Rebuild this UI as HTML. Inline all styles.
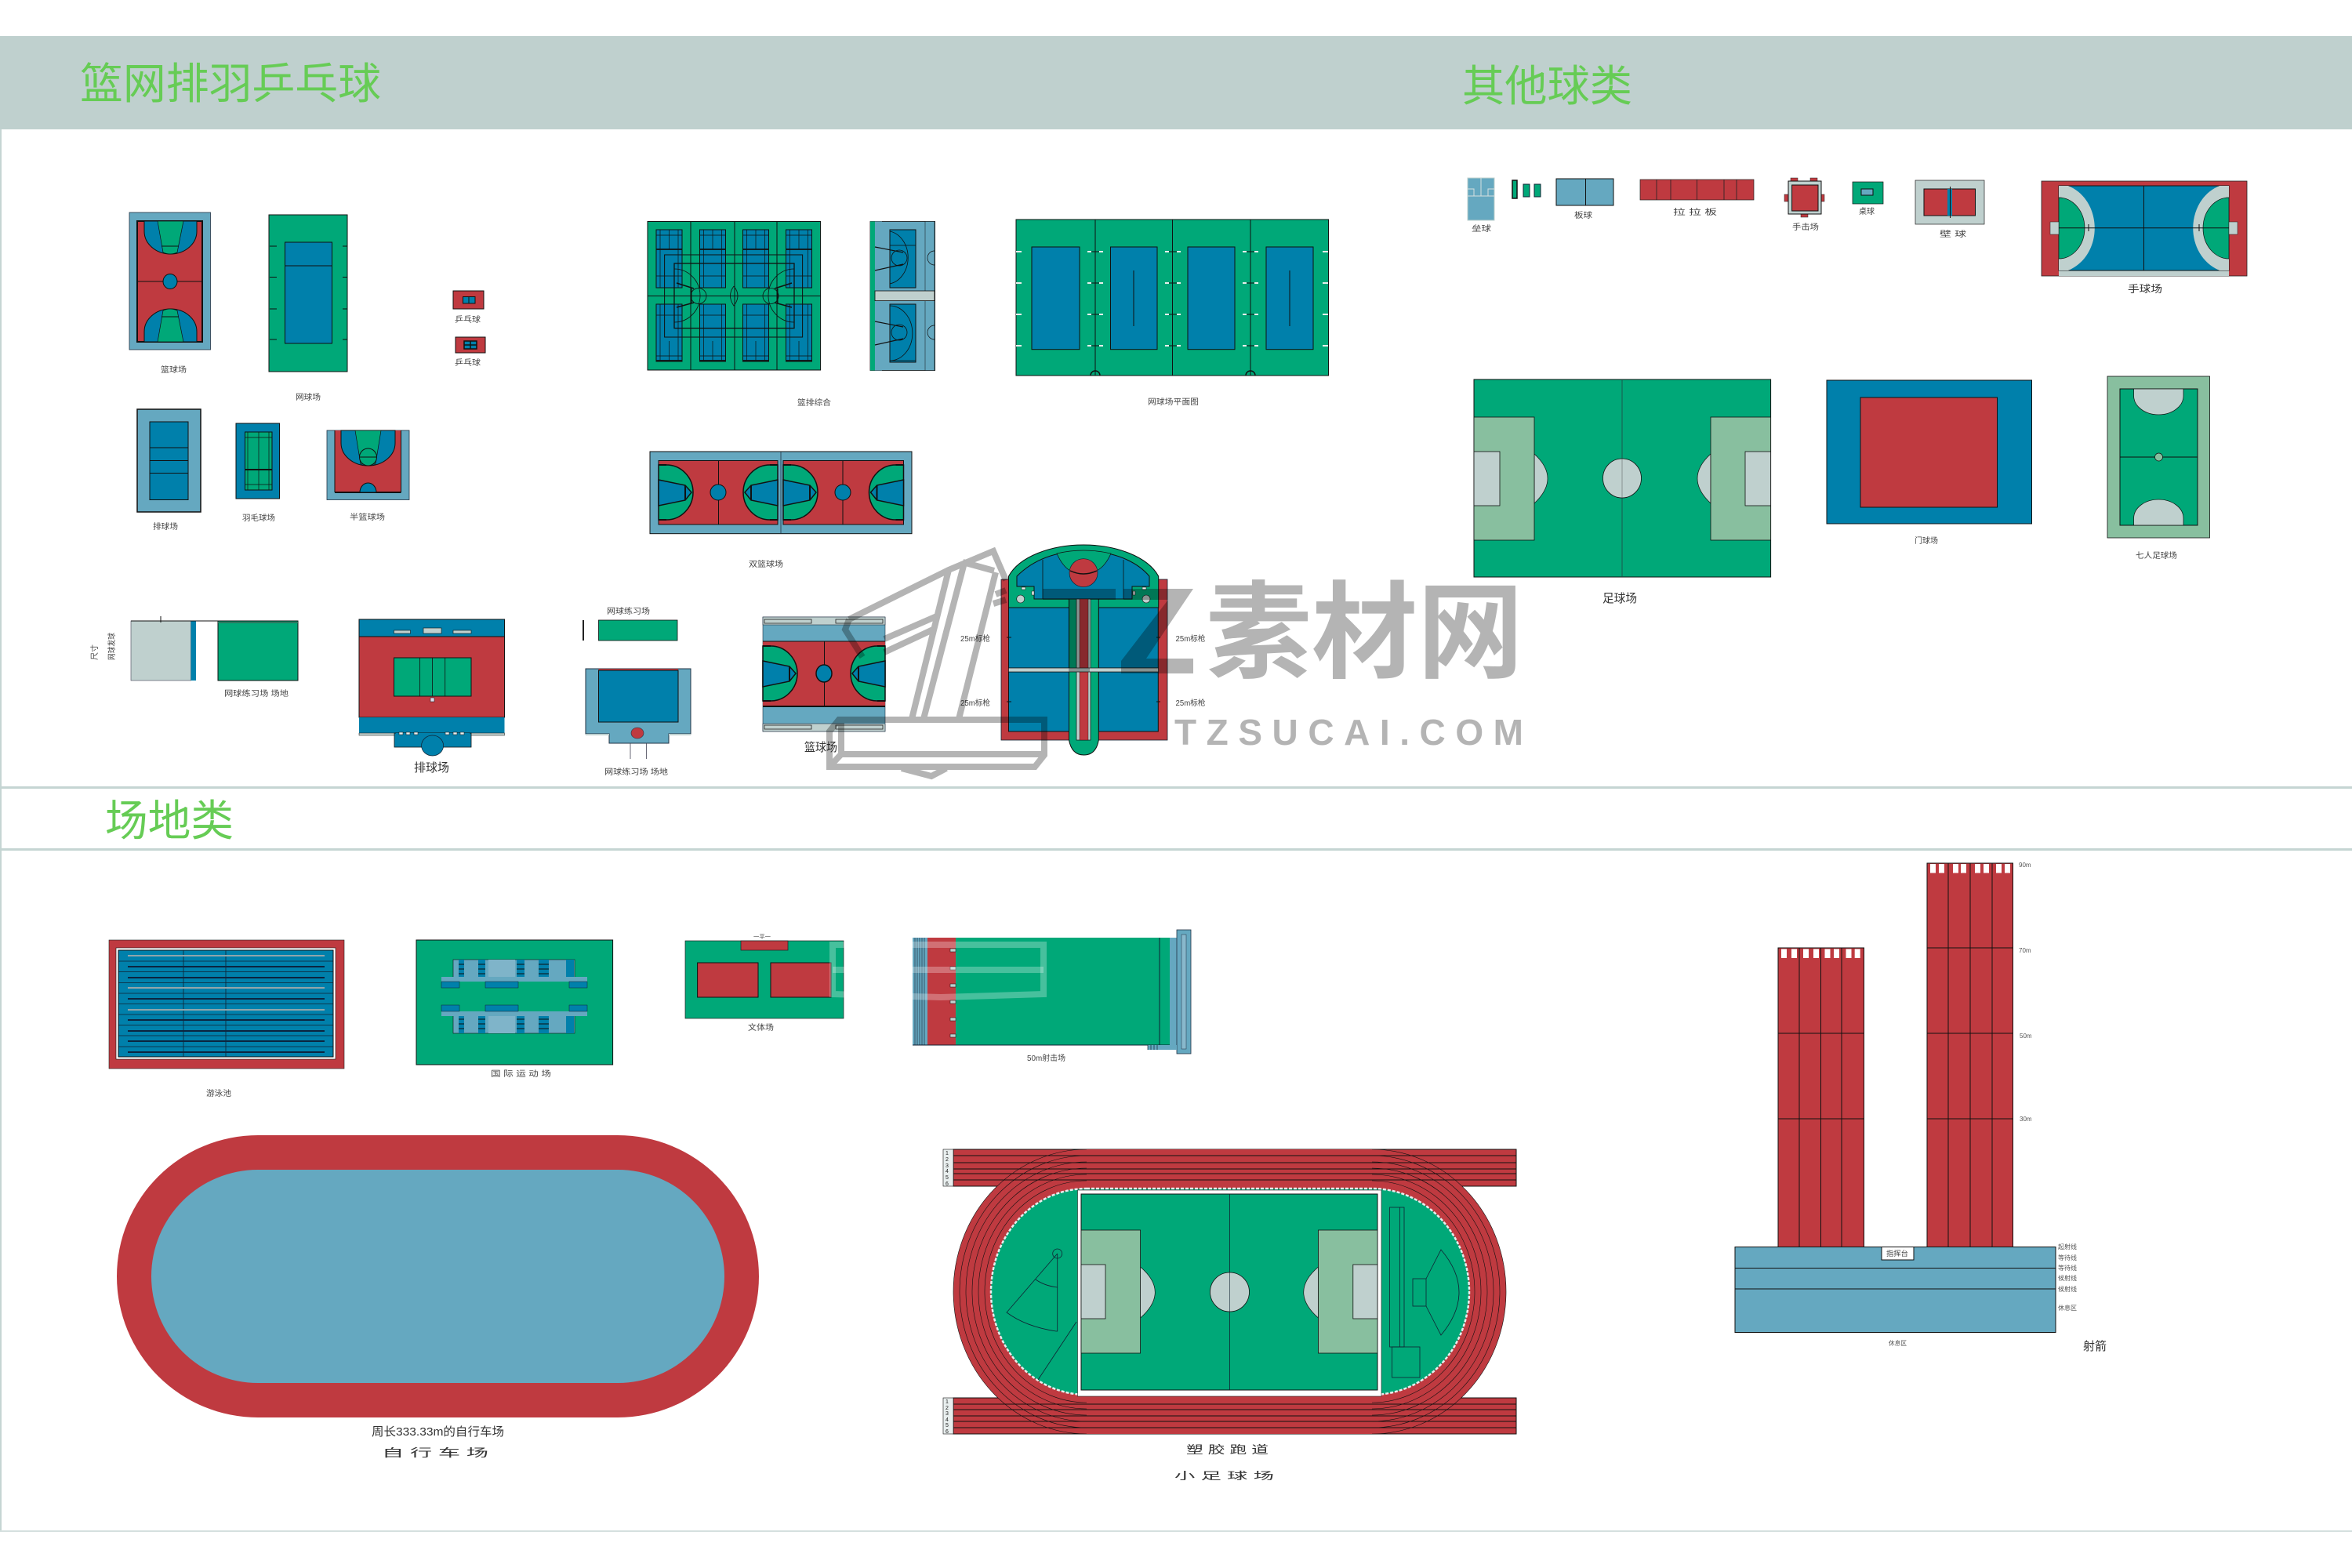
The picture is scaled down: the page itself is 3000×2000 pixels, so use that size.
<!DOCTYPE html>
<html><head><meta charset="utf-8"><title>球场</title>
<style>
html,body{margin:0;padding:0;background:#fff}
svg{display:block}
text{font-family:"Liberation Sans","WenQuanYi Zen Hei","Noto Sans CJK SC",sans-serif}
.t{font-size:55px;fill:#66cc55}
.l{font-size:10px;fill:#444}
.m{font-size:15px;fill:#333}
.k{stroke:#111;stroke-width:1.5;fill:none}
.s{stroke:#111;stroke-width:1}
.wm{fill:none;stroke:#b4b4b4;stroke-width:8}
</style></head><body>
<svg xmlns="http://www.w3.org/2000/svg" xmlns:xlink="http://www.w3.org/1999/xlink" width="3000" height="2000" viewBox="0 0 3000 2000">
<defs>
<g id="hb">
<path d="M0 -35 L10 -35 A34 35 0 0 1 10 35 L0 35Z" fill="#00a878" stroke="#111" stroke-width="1.5"/>
<path d="M0 -16 L34 -9 L42 0 L34 10 L0 17Z" fill="#0080ab" stroke="#111" stroke-width="1.5"/>
<path d="M34 -9V10M0 -35H10M0 35H10" stroke="#111" stroke-width="2"/>
</g>
<g id="tn"><rect width="33" height="74" fill="#0080ab" stroke="#111"/><path d="M5 0V74M28 0V74M16.500 0V25M0 7H33M0 59H33" stroke="#111" fill="none" stroke-width=".7"/><path d="M0 25H33" stroke="#111" stroke-width="1.800"/></g>
<g id="tn2"><rect width="33" height="73" fill="#0080ab" stroke="#111"/><path d="M5 0V73M28 0V73M16.500 47V73M0 14H33M0 66H33" stroke="#111" fill="none" stroke-width=".7"/><path d="M0 72H33" stroke="#111" stroke-width="1.800"/></g>
<g id="stand">
<rect x="578" y="1224" width="155" height="27" fill="#65a8c0" stroke="#111" stroke-width=".6"/>
<rect x="585" y="1224" width="7" height="27" fill="#0080ab"/><rect x="610" y="1224" width="9" height="27" fill="#0080ab"/><rect x="659" y="1224" width="10" height="27" fill="#0080ab"/><rect x="687" y="1224" width="13" height="27" fill="#0080ab"/><rect x="722" y="1224" width="10" height="27" fill="#0080ab"/>
<rect x="623" y="1224" width="34" height="27" fill="#7fb4c9"/>
<path d="M585 1230H592M585 1236H592M585 1242H592M610 1230H619M610 1236H619M610 1242H619M659 1230H669M659 1236H669M659 1242H669M687 1230H700M687 1236H700M687 1242H700" stroke="#111" stroke-width="1"/>
<rect x="563" y="1246" width="186" height="6" fill="#65a8c0"/>
<rect x="563" y="1252" width="23" height="8" fill="#0080ab" stroke="#123" stroke-width=".5"/><rect x="726" y="1252" width="23" height="8" fill="#0080ab" stroke="#123" stroke-width=".5"/><rect x="619" y="1252" width="42" height="8" fill="#0080ab" stroke="#123" stroke-width=".5"/>
</g>
</defs>
<rect width="3000" height="2000" fill="#fff"/>

<!-- frame -->
<rect x="0" y="46" width="3000" height="119" fill="#bfd0ce"/>
<rect x="0" y="165" width="2" height="1789" fill="#c5d5d3"/>
<rect x="0" y="1003" width="3000" height="3" fill="#c5d5d3"/>
<rect x="0" y="1082" width="3000" height="3" fill="#c5d5d3"/>
<rect x="0" y="1952" width="3000" height="2" fill="#d5e0df"/>
<text class="t" x="102" y="126" textLength="384" lengthAdjust="spacingAndGlyphs">篮网排羽乒乓球</text>
<text class="t" x="1865" y="129" textLength="217" lengthAdjust="spacingAndGlyphs">其他球类</text>
<text class="t" x="134" y="1066" textLength="164" lengthAdjust="spacingAndGlyphs">场地类</text>

<!-- basketball vertical -->
<rect x="165" y="271" width="103.500" height="175" fill="#65a8c0" stroke="#234" stroke-width=".8"/>
<rect x="175" y="282" width="83" height="154" fill="#bf3a40" stroke="#111" stroke-width="2"/>
<g id="bk">
<path d="M184 282V295A33.500 29 0 0 0 251 295V282Z" fill="#0080ab" stroke="#111"/>
<path d="M201 282L208 322Q217 326 226 322L234 282Z" fill="#00a878" stroke="#111" stroke-width=".7"/>
<path d="M206 314H228" stroke="#111"/>
</g>
<use xlink:href="#bk" href="#bk" transform="translate(0,718) scale(1,-1)"/>
<path d="M175 359H258" class="s"/>
<ellipse cx="217" cy="359" rx="9" ry="9.500" fill="#0080ab" stroke="#111"/>
<text class="l" x="205" y="475" textLength="33" lengthAdjust="spacingAndGlyphs">篮球场</text>

<!-- tennis vertical -->
<rect x="343" y="274" width="100" height="200" fill="#00a878" stroke="#111"/>
<rect x="363.500" y="309" width="60" height="129" fill="#0080ab" stroke="#111"/>
<path d="M363.500 339H423.500" class="s"/>
<path d="M344 314H353M344 353.500H353M344 394H353M344 433H353M437 314H443M437 353.500H443M437 394H443M437 433H443" class="s"/>
<text class="l" x="377" y="510" textLength="32" lengthAdjust="spacingAndGlyphs">网球场</text>

<!-- ping pong -->
<rect x="578" y="371" width="39" height="23" fill="#bf3a40" stroke="#111"/><rect x="590.500" y="378.500" width="15.500" height="8.500" fill="#0080ab" stroke="#111"/><path d="M598 378V387" class="s"/>
<text class="l" x="580" y="411" textLength="33" lengthAdjust="spacingAndGlyphs">乒乓球</text>
<rect x="581" y="430" width="38" height="20" fill="#bf3a40" stroke="#111"/><rect x="592" y="435" width="16" height="10" fill="#0080ab" stroke="#111" stroke-width="1.5"/><path d="M600 435V445M592 440H608" stroke="#111" stroke-width="1.5"/>
<text class="l" x="580" y="466" textLength="33" lengthAdjust="spacingAndGlyphs">乒乓球</text>

<!-- volleyball -->
<rect x="175" y="522" width="81" height="131" fill="#65a8c0" stroke="#111" stroke-width="1.5"/>
<rect x="191" y="538" width="49" height="99.500" fill="#0080ab" stroke="#111"/>
<path d="M191 571H240M191 587.500H240M191 603.500H240" class="s"/>
<text class="l" x="195" y="675" textLength="32" lengthAdjust="spacingAndGlyphs">排球场</text>

<!-- badminton -->
<rect x="301" y="540" width="55.500" height="96" fill="#0080ab" stroke="#111"/>
<rect x="312.500" y="551" width="34.500" height="74" fill="#00a878" stroke="#111"/>
<path d="M312.500 558H347M312.500 618H347M316 551V625M343 551V625M330 551V625" stroke="#111" stroke-width=".7"/><path d="M312.500 599H347" stroke="#111" stroke-width="2"/>
<text class="l" x="309" y="664" textLength="42" lengthAdjust="spacingAndGlyphs">羽毛球场</text>

<!-- half basketball -->
<rect x="417" y="549" width="105" height="88.500" fill="#65a8c0" stroke="#234" stroke-width=".8"/>
<rect x="427" y="549" width="84.500" height="79" fill="#bf3a40"/><path d="M427 628H511.500" stroke="#111" stroke-width="2"/><path d="M427 549V628M511.500 549V628" class="s"/>
<path d="M435 549V565A34.500 29 0 0 0 504 565V549Z" fill="#0080ab" stroke="#111"/>
<path d="M453 549L460 592H479L486 549Z" fill="#00a878" stroke="#111" stroke-width=".7"/>
<circle cx="469.500" cy="583" r="11" fill="#00a878" stroke="#111"/><path d="M458.500 583H480.500" class="s"/>
<path d="M459 628A10.500 12 0 0 1 480 628Z" fill="#0080ab" stroke="#111"/>
<text class="l" x="446" y="663" textLength="45" lengthAdjust="spacingAndGlyphs">半篮球场</text>

<!-- combined court -->
<rect x="826" y="282.500" width="220.600" height="189.500" fill="#00a878" stroke="#111"/>
<path d="M881 282.500V472M937 282.500V472M991 282.500V472M826 377.500H1046.600" class="s" stroke-width=".8"/>
<use href="#tn" xlink:href="#tn" x="837" y="293"/><use href="#tn" xlink:href="#tn" x="892.500" y="293"/><use href="#tn" xlink:href="#tn" x="947.500" y="293"/><use href="#tn" xlink:href="#tn" x="1002.500" y="293"/>
<use href="#tn2" xlink:href="#tn2" x="837" y="388"/><use href="#tn2" xlink:href="#tn2" x="892.500" y="388"/><use href="#tn2" xlink:href="#tn2" x="947.500" y="388"/><use href="#tn2" xlink:href="#tn2" x="1002.500" y="388"/>
<rect x="847.600" y="325" width="176" height="105" fill="none" stroke="#111"/>
<rect x="860" y="336" width="153" height="82.600" fill="none" stroke="#111" stroke-width="1.300"/>
<path d="M860 343A33 34 0 0 1 860 411M1013 343A33 34 0 0 0 1013 411" fill="none" stroke="#111" stroke-width=".8"/>
<path d="M863 361L885 368M863 392L885 386M1010 361L988 368M1010 392L988 386" stroke="#111" stroke-width="1.500"/>
<path d="M882 368V387M992 368V387" stroke="#111" stroke-width="1"/>
<ellipse cx="891" cy="377.500" rx="10" ry="10" fill="none" stroke="#111" stroke-width=".8"/><ellipse cx="983" cy="377.500" rx="10" ry="10" fill="none" stroke="#111" stroke-width=".8"/>
<path d="M936 365Q927 377 936 390Q946 377 936 365" stroke="#111" fill="none" stroke-width=".8"/>

<rect x="1110" y="282.500" width="82.600" height="190" fill="#65a8c0" stroke="#111" stroke-width=".8"/>
<rect x="1110" y="282.500" width="6" height="190" fill="#00a878"/><rect x="1116" y="282.500" width="9" height="190" fill="#65a8c0"/>
<rect x="1180" y="282.500" width="12" height="190" fill="#65a8c0" stroke="#111" stroke-width=".5"/>
<rect x="1135" y="293" width="33" height="74" fill="#0080ab" stroke="#111"/>
<rect x="1135" y="388" width="33" height="74" fill="#0080ab" stroke="#111"/>
<path d="M1135 313H1168M1135 460H1168" stroke="#111" stroke-width=".7"/>
<rect x="1116" y="371" width="76" height="12.600" fill="#bfd0ce" stroke="#111" stroke-width=".8"/>
<path d="M1116 315L1152 322M1116 345L1152 337M1116 410L1152 417M1116 440L1152 432" stroke="#111" stroke-width="1.200"/>
<path d="M1135 295A28 34 0 0 1 1135 362M1135 390A28 34 0 0 1 1135 460" stroke="#111" fill="none" stroke-width=".8"/>
<ellipse cx="1147" cy="329" rx="10" ry="10" fill="none" stroke="#111" stroke-width=".8"/><ellipse cx="1147" cy="424" rx="10" ry="10" fill="none" stroke="#111" stroke-width=".8"/>
<path d="M1192 320A8 8 0 0 0 1192 338M1192 415A8 8 0 0 0 1192 433" stroke="#111" fill="none" stroke-width=".7"/>
<text class="l" x="1017" y="517" textLength="43" lengthAdjust="spacingAndGlyphs">篮排综合</text>

<!-- tennis plan -->
<rect x="1296" y="280" width="398.500" height="199" fill="#00a878" stroke="#111"/>
<path d="M1397 280V479M1495.500 280V479M1595 280V479" class="s"/>
<g fill="#0080ab" stroke="#111"><rect x="1316" y="315" width="61" height="130.700"/><rect x="1416.500" y="315" width="59.500" height="130.700"/><rect x="1515" y="315" width="60" height="130.700"/><rect x="1615" y="315" width="60" height="130.700"/></g>
<path d="M1446 345V416M1645 345V416" class="s" stroke-width=".7"/>
<path d="M1296 321H1303M1296 361H1303M1296 401H1303M1296 441H1303M1387 321H1392M1402 321H1407M1387 361H1392M1402 361H1407M1387 401H1392M1402 401H1407M1387 441H1392M1402 441H1407M1486 321H1491M1501 321H1506M1486 361H1491M1501 361H1506M1486 401H1491M1501 401H1506M1486 441H1491M1501 441H1506M1585 321H1590M1600 321H1605M1585 361H1590M1600 361H1605M1585 401H1590M1600 401H1605M1585 441H1590M1600 441H1605M1687 321H1694M1687 361H1694M1687 401H1694M1687 441H1694" stroke="#e6efec" stroke-width="2"/>
<path d="M1392 321H1402M1392 361H1402M1392 401H1402M1392 441H1402M1491 321H1501M1491 361H1501M1491 401H1501M1491 441H1501M1590 321H1600M1590 361H1600M1590 401H1600M1590 441H1600" stroke="#111" stroke-width=".9"/>
<path d="M1391 479A6 6 0 0 1 1403 479M1589 479A6 6 0 0 1 1601 479" class="k" stroke-width=".8"/>
<text class="l" x="1464" y="516" textLength="65" lengthAdjust="spacingAndGlyphs">网球场平面图</text>

<!-- double basketball -->
<rect x="829" y="576" width="334" height="104.700" fill="#65a8c0" stroke="#111"/>
<path d="M996 576V680.700" stroke="#234" stroke-width=".8"/>
<rect x="840" y="587.500" width="152" height="81.500" fill="#bf3a40" stroke="#111"/>
<rect x="999" y="587.500" width="153.500" height="81.500" fill="#bf3a40" stroke="#111"/>
<use href="#hb" xlink:href="#hb" transform="translate(840,628)"/><use href="#hb" xlink:href="#hb" transform="translate(992,628) scale(-1,1)"/><use href="#hb" xlink:href="#hb" transform="translate(999,628)"/><use href="#hb" xlink:href="#hb" transform="translate(1152.500,628) scale(-1,1)"/>
<path d="M916.500 587.500V669M1075 587.500V669" class="s"/>
<ellipse cx="916" cy="628" rx="10" ry="10" fill="#0080ab" stroke="#111"/><ellipse cx="1075" cy="628" rx="10" ry="10" fill="#0080ab" stroke="#111"/>
<text class="l" x="955" y="723" textLength="44" lengthAdjust="spacingAndGlyphs">双篮球场</text>

<!-- practice wall -->
<rect x="167" y="792" width="76.500" height="76" fill="#bfd0ce" stroke="#445" stroke-width=".6"/>
<rect x="243.500" y="792" width="6.500" height="76" fill="#0080ab"/>
<rect x="278" y="792" width="102" height="76" fill="#00a878" stroke="#111"/><path d="M278 794H380" stroke="#2a7a60" stroke-width="2"/>
<path d="M167 792H380" stroke="#111"/><path d="M205 786V794" class="s"/>
<text class="l" transform="translate(124,842) rotate(-90)" x="0" y="0" textLength="20" lengthAdjust="spacingAndGlyphs">尺寸</text>
<text class="l" transform="translate(146,842) rotate(-90)" x="0" y="0" textLength="35" lengthAdjust="spacingAndGlyphs">网球发球</text>
<text class="l" x="286" y="888" textLength="82" lengthAdjust="spacingAndGlyphs">网球练习场 场地</text>

<!-- volleyball hall -->
<rect x="458" y="790" width="185.500" height="22" fill="#0080ab" stroke="#111"/>
<rect x="458" y="812" width="185.500" height="103" fill="#bf3a40" stroke="#111"/>
<rect x="458" y="915" width="185.500" height="20" fill="#0080ab"/>
<rect x="458" y="935" width="185.500" height="3" fill="#bfd0ce" stroke="#111" stroke-width=".5"/>
<rect x="503" y="935" width="98" height="18" fill="#0080ab" stroke="#111" stroke-width=".8"/>
<rect x="505" y="935" width="94" height="3" fill="#0080ab"/>
<ellipse cx="551.600" cy="951" rx="14" ry="13" fill="#0080ab" stroke="#123" stroke-width=".7"/>
<g fill="#bfd0ce" stroke="#111" stroke-width=".6"><rect x="502.500" y="804" width="21" height="4"/><rect x="540" y="801" width="23" height="7"/><rect x="578" y="804" width="23" height="4"/></g>
<g fill="#e8eeee" stroke="#111" stroke-width=".5"><rect x="509" y="934" width="5" height="3"/><rect x="518" y="934" width="5" height="3"/><rect x="528" y="934" width="5" height="3"/><rect x="568" y="934" width="5" height="3"/><rect x="578" y="934" width="5" height="3"/><rect x="587" y="934" width="5" height="3"/></g>
<rect x="502.500" y="839" width="98.500" height="49" fill="#00a878" stroke="#111"/>
<path d="M535.500 839V888M551.600 839V888M567.700 839V888" stroke="#111" stroke-width=".8"/>
<rect x="549" y="890" width="5" height="5" fill="#dde" stroke="#111" stroke-width=".5"/>
<text class="m" x="528" y="984" textLength="45" lengthAdjust="spacingAndGlyphs">排球场</text>

<!-- practice 2 -->
<text class="l" x="774" y="783" textLength="55" lengthAdjust="spacingAndGlyphs">网球练习场</text>
<rect x="743" y="791" width="2" height="26" fill="#222"/>
<rect x="763.500" y="791" width="100.500" height="26" fill="#00a878" stroke="#111" stroke-width=".8"/>
<path d="M747 853H881V936H853V948H777V936H747Z" fill="#65a8c0" stroke="#234"/>
<rect x="763.500" y="853" width="101.500" height="2" fill="#bf3a40"/>
<rect x="763.500" y="855" width="101.500" height="66" fill="#0080ab" stroke="#111"/>
<ellipse cx="813" cy="935" rx="8" ry="7" fill="#bf3a40" stroke="#234" stroke-width=".6"/>
<path d="M804 948V968M824.500 948V968" stroke="#445" stroke-width=".8"/>
<rect x="747" y="936" width="30" height="2" fill="#bfd0ce"/><rect x="853" y="936" width="28" height="2" fill="#bfd0ce"/>
<text class="l" x="771" y="988" textLength="81" lengthAdjust="spacingAndGlyphs">网球练习场 场地</text>

<!-- basketball 973 -->
<rect x="973" y="787" width="156" height="146" fill="#65a8c0" stroke="#234" stroke-width=".6"/>
<rect x="973" y="787" width="156" height="10" fill="#bfd0ce" stroke="#234" stroke-width=".6"/><rect x="973" y="923" width="156" height="10" fill="#bfd0ce" stroke="#234" stroke-width=".6"/>
<g fill="#bfd0ce" stroke="#222" stroke-width=".8"><rect x="975" y="790" width="60" height="5"/><rect x="1066" y="790" width="60" height="5"/><rect x="975" y="925" width="60" height="5"/><rect x="1066" y="925" width="60" height="5"/></g>
<rect x="973" y="818" width="156" height="83" fill="#bf3a40"/>
<use href="#hb" xlink:href="#hb" transform="translate(973,859)"/><use href="#hb" xlink:href="#hb" transform="translate(1129,859) scale(-1,1)"/>
<path d="M973 901H1129" stroke="#111" stroke-width="2"/><path d="M973 818H1129M1051.500 818V901" class="s"/>
<ellipse cx="1051" cy="859" rx="10" ry="11" fill="#0080ab" stroke="#111" stroke-width="1.500"/>
<text class="m" x="1026" y="958" textLength="42" lengthAdjust="spacingAndGlyphs">篮球场</text>

<!-- big complex -->
<rect x="1277" y="739" width="212" height="205" fill="#bf3a40" stroke="#123" stroke-width=".8"/>
<path d="M1286.500 775V735C1300 710 1340 695 1382 695C1424 695 1464 710 1477.700 735V775Z" fill="#00a878" stroke="#111"/>
<path d="M1297 735C1310 722 1335 703 1382 703C1430 703 1455 722 1466 735V748H1444V764H1319V748H1297Z" fill="#0080ab" stroke="#111"/>
<path d="M1348 706Q1355 722 1365 728H1399Q1410 722 1417 706Q1382 698 1348 706Z" fill="#00a878" stroke="#111" stroke-width=".7"/>
<ellipse cx="1382" cy="730.700" rx="18" ry="18" fill="#bf3a40" stroke="#123" stroke-width=".7"/><path d="M1365 728Q1382 736 1399 728" class="k" stroke-width=".7"/>
<path d="M1330 714V764M1433 714V764" stroke="#111" stroke-width=".8"/>
<circle cx="1301.700" cy="764" r="5" fill="#bfd0ce" stroke="#111" stroke-width=".6"/><circle cx="1462" cy="764" r="5" fill="#bfd0ce" stroke="#111" stroke-width=".6"/>
<g fill="#e8eeee" stroke="#111" stroke-width=".5"><rect x="1303" y="749" width="5" height="3"/><rect x="1457" y="749" width="5" height="3"/><rect x="1316" y="754" width="3" height="5"/><rect x="1445" y="754" width="3" height="5"/></g>
<g fill="#0080ab" stroke="#111"><rect x="1286.500" y="775" width="77" height="77"/><rect x="1401.300" y="775" width="76" height="77"/><rect x="1286.500" y="857" width="77" height="76"/><rect x="1401.300" y="857" width="76" height="76"/></g>
<path d="M1363.500 764H1401.300V944Q1398 963 1382.500 963Q1367 963 1363.500 944Z" fill="#00a878" stroke="#111"/>
<rect x="1373" y="764" width="18" height="180" fill="#bfd0ce" stroke="#111" stroke-width=".7"/>
<rect x="1377" y="764" width="11" height="180" fill="#bf3a40" stroke="#111" stroke-width=".4"/>
<rect x="1286.500" y="852" width="191" height="5" fill="#bfd0ce" stroke="#111" stroke-width=".7"/>
<path d="M1284 813H1290M1475 813H1480M1284 895H1290M1475 895H1480" class="s"/>
<g class="l"><text x="1225" y="818" textLength="38" lengthAdjust="spacingAndGlyphs">25m标枪</text><text x="1225" y="900" textLength="38" lengthAdjust="spacingAndGlyphs">25m标枪</text><text x="1499.500" y="818" textLength="38" lengthAdjust="spacingAndGlyphs">25m标枪</text><text x="1499.500" y="900" textLength="38" lengthAdjust="spacingAndGlyphs">25m标枪</text></g>

<!-- other balls row -->
<rect x="1872" y="227" width="34" height="54" fill="#65a8c0" stroke="#bfd0ce"/>
<path d="M1889 227V250M1872 241H1880V250M1906 241H1898V250M1872 250H1906" stroke="#d5e0df" fill="none"/>
<text class="l" x="1877" y="295" textLength="25" lengthAdjust="spacingAndGlyphs">垒球</text>
<rect x="1929" y="230" width="6" height="23" fill="#00a878" stroke="#111" stroke-width="1.500"/><rect x="1943" y="235" width="8" height="16" fill="#00a878" stroke="#123"/><rect x="1957" y="235" width="8" height="16" fill="#00a878" stroke="#123"/>
<rect x="1985" y="228" width="73" height="34" fill="#65a8c0" stroke="#111"/><path d="M2022.500 228V262" class="s"/>
<text class="l" x="2008" y="278" textLength="23" lengthAdjust="spacingAndGlyphs">板球</text>
<rect x="2092" y="229" width="145" height="26" fill="#bf3a40" stroke="#222" stroke-width=".7"/>
<path d="M2113 229V255M2131 229V255M2164.500 229V255M2199 229V255M2215 229V255" stroke="#222" stroke-width=".8"/>
<text class="l" x="2134" y="274" textLength="56" lengthAdjust="spacingAndGlyphs">拉 拉 板</text>
<g fill="#bf3a40" stroke="#222" stroke-width=".5"><rect x="2284" y="227" width="9" height="4"/><rect x="2309" y="227" width="9" height="4"/><rect x="2276" y="248" width="5" height="9"/><rect x="2323" y="248" width="4" height="9"/><rect x="2297" y="273" width="9" height="4"/></g>
<rect x="2281" y="231" width="42" height="42" fill="#bfd0ce" stroke="#111"/><rect x="2285.600" y="236" width="33.400" height="33" fill="#bf3a40" stroke="#111"/>
<text class="l" x="2286" y="293" textLength="34" lengthAdjust="spacingAndGlyphs">手击场</text>
<rect x="2363" y="232" width="39" height="28" fill="#00a878" stroke="#111" stroke-width=".7"/><rect x="2374" y="241" width="15" height="8" fill="#65a8c0" stroke="#111"/>
<text class="l" x="2371" y="273" textLength="20" lengthAdjust="spacingAndGlyphs">桌球</text>
<rect x="2443" y="230" width="88" height="56" fill="#bfd0ce" stroke="#222" stroke-width=".7"/><rect x="2454" y="241" width="65.500" height="34" fill="#bf3a40" stroke="#111"/>
<rect x="2484" y="241" width="6" height="34" fill="#0080ab"/><path d="M2487.500 238V278" class="s"/>
<text class="l" x="2474" y="302" textLength="34" lengthAdjust="spacingAndGlyphs">壁 球</text>

<!-- handball -->
<rect x="2604" y="231" width="262" height="121" fill="#bf3a40" stroke="#222" stroke-width=".8"/>
<rect x="2626" y="345" width="217" height="7" fill="#bfd0ce"/>
<rect x="2626" y="237" width="217" height="108" fill="#0080ab" stroke="#111"/>
<path d="M2626 237H2638C2682 255 2684 325 2638 345H2626Z" fill="#bfd0ce"/>
<path d="M2843 237H2831C2787 255 2785 325 2831 345H2843Z" fill="#bfd0ce"/>
<path d="M2626 252A33 39 0 0 1 2626 330Z" fill="#00a878" stroke="#111" stroke-width=".7"/>
<path d="M2843 252A33 39 0 0 0 2843 330Z" fill="#00a878" stroke="#111" stroke-width=".7"/>
<rect x="2615" y="283" width="11" height="16" fill="#bfd0ce" stroke="#222" stroke-width=".5"/><rect x="2843" y="283" width="11" height="16" fill="#bfd0ce" stroke="#222" stroke-width=".5"/>
<path d="M2626 290.700H2843M2734.500 237V345M2664 286V295M2805 286V295" class="s"/>
<text class="m" x="2714" y="373" textLength="44" lengthAdjust="spacingAndGlyphs" style="font-size:13px">手球场</text>

<!-- soccer -->
<rect x="1880" y="484" width="378.600" height="252" fill="#00a878" stroke="#111"/>
<path d="M1957 579Q1991 610 1957 642Z" fill="#bfd0ce" stroke="#111" stroke-width=".7"/>
<path d="M2182 579Q2148 610 2182 642Z" fill="#bfd0ce" stroke="#111" stroke-width=".7"/>
<rect x="1880" y="532" width="77" height="157" fill="#88bf9f" stroke="#111" stroke-width=".8"/><rect x="2182" y="532" width="76.600" height="157" fill="#88bf9f" stroke="#111" stroke-width=".8"/>
<rect x="1880" y="576" width="33" height="69" fill="#bfd0ce" stroke="#111" stroke-width=".8"/><rect x="2226" y="576" width="32.600" height="69" fill="#bfd0ce" stroke="#111" stroke-width=".8"/>
<path d="M2069 484V736" stroke="#244" stroke-width=".8"/>
<ellipse cx="2069" cy="610" rx="24.500" ry="25" fill="#bfd0ce" stroke="#111" stroke-width=".8"/><path d="M2069 585V635" stroke="#555" stroke-width=".5"/>
<text class="m" x="2044" y="768" textLength="44" lengthAdjust="spacingAndGlyphs">足球场</text>

<rect x="2330" y="485" width="261.500" height="183" fill="#0080ab" stroke="#111"/>
<rect x="2373" y="507" width="174.500" height="140" fill="#bf3a40" stroke="#111"/>
<text class="l" x="2442" y="693" textLength="30" lengthAdjust="spacingAndGlyphs">门球场</text>

<rect x="2688" y="480" width="130.500" height="206" fill="#88bf9f" stroke="#111" stroke-width=".8"/>
<rect x="2704" y="496" width="99" height="174" fill="#00a878" stroke="#111"/>
<path d="M2721.600 496V505A31.700 24 0 0 0 2785 505V496Z" fill="#bfd0ce" stroke="#111" stroke-width=".7"/>
<path d="M2721.600 670V661A31.700 24 0 0 1 2785 661V670Z" fill="#bfd0ce" stroke="#111" stroke-width=".7"/>
<path d="M2704 583H2803" class="s"/><ellipse cx="2753.500" cy="583" rx="5" ry="5" fill="#88bf9f" stroke="#111" stroke-width=".7"/>
<text class="l" x="2724" y="712" textLength="53" lengthAdjust="spacingAndGlyphs">七人足球场</text>

<!-- pool -->
<rect x="139" y="1199" width="300" height="164" fill="#bf3a40" stroke="#222" stroke-width=".6"/>
<rect x="148" y="1209" width="280" height="142" fill="#fff" stroke="#111" stroke-width=".6"/>
<rect x="151" y="1212" width="274" height="136" fill="#0080ab" stroke="#111"/>
<path d="M151 1226H425M151 1239.500H425M151 1253.500H425M151 1267H425M151 1280.500H425M151 1294H425M151 1307.500H425M151 1321H425M151 1335H425" stroke="#123" stroke-width=".8"/>
<path d="M234 1212V1348M288 1212V1348" stroke="#123" stroke-width=".8"/>
<path d="M163 1219H414M163 1233H414M163 1247H414M163 1260H414M163 1274H414M163 1288H414M163 1301H414M163 1315H414M163 1328H414M163 1342H414" stroke="#0c2540" stroke-width="2"/>
<path d="M163 1219H414M163 1260H414M163 1288H414" stroke="#bfd0ce" stroke-width="1.500"/>
<text class="l" x="263" y="1398" textLength="32" lengthAdjust="spacingAndGlyphs">游泳池</text>

<!-- athletics field -->
<rect x="531" y="1199" width="250.600" height="159" fill="#00a878" stroke="#111"/>
<use href="#stand" xlink:href="#stand"/><use href="#stand" xlink:href="#stand" transform="translate(0,2542) scale(1,-1)"/>
<text class="l" x="626" y="1373" textLength="77" lengthAdjust="spacingAndGlyphs">国 际 运 动 场</text>

<!-- tennis 3 -->
<rect x="874" y="1200" width="202" height="99" fill="#00a878" stroke="#222" stroke-width=".7"/>
<rect x="945" y="1200" width="60" height="12" fill="#bf3a40" stroke="#222" stroke-width=".7"/>
<rect x="889.600" y="1228" width="77.400" height="44" fill="#bf3a40" stroke="#111"/><rect x="983" y="1228" width="77" height="44" fill="#bf3a40" stroke="#111"/>
<text class="l" x="961" y="1197" textLength="22" lengthAdjust="spacingAndGlyphs" style="font-size:7px">一平一</text>
<text class="l" x="954" y="1314" textLength="33" lengthAdjust="spacingAndGlyphs">文体场</text>

<!-- shooting -->
<rect x="1164" y="1196" width="19" height="137" fill="#65a8c0"/><path d="M1167 1196V1333M1170 1196V1333M1173 1196V1333M1176 1196V1333M1179 1196V1333" stroke="#234" stroke-width=".7"/>
<rect x="1183" y="1196" width="36" height="137" fill="#bf3a40"/>
<rect x="1219" y="1196" width="273" height="137" fill="#00a878"/><path d="M1164 1333H1492M1479 1196V1333" stroke="#123"/>
<rect x="1492" y="1196" width="9" height="137" fill="#65a8c0"/>
<rect x="1501" y="1186" width="18" height="158" fill="#65a8c0" stroke="#234" stroke-width=".8"/><rect x="1507" y="1192" width="6" height="146" fill="#88b8cc" stroke="#234" stroke-width=".5"/>
<rect x="1464" y="1333" width="37" height="6" fill="#65a8c0"/><path d="M1464 1333V1339M1468 1333V1339M1472 1333V1339M1476 1333V1339" stroke="#123" stroke-width=".7"/>
<g fill="#bfd0ce" stroke="#111" stroke-width=".5"><rect x="1212" y="1210" width="7" height="4"/><rect x="1212" y="1233" width="7" height="4"/><rect x="1212" y="1255" width="7" height="4"/><rect x="1212" y="1276" width="7" height="4"/><rect x="1212" y="1298" width="7" height="4"/><rect x="1212" y="1319" width="7" height="4"/></g>
<text class="l" x="1310" y="1353" textLength="49" lengthAdjust="spacingAndGlyphs">50m射击场</text>

<!-- cycling -->
<rect x="149" y="1448" width="819" height="360" rx="180" ry="180" fill="#bf3a40"/>
<rect x="193" y="1492" width="731" height="272" rx="136" ry="136" fill="#65a8c0"/>
<text class="m" x="474" y="1831" textLength="169" lengthAdjust="spacingAndGlyphs" style="font-size:15px">周长333.33m的自行车场</text>
<text class="m" x="487" y="1858" textLength="136" lengthAdjust="spacingAndGlyphs" style="font-size:14px">自  行  车  场</text>

<!-- stadium -->
<rect x="1216" y="1466" width="718" height="47" fill="#bf3a40" stroke="#111"/>
<rect x="1216" y="1783" width="718" height="46" fill="#bf3a40" stroke="#111"/>
<path d="M1386 1466H1750A171 181.500 0 0 1 1750 1829H1386A170 181.500 0 0 1 1386 1466Z" fill="#bf3a40"/>
<path d="M1216 1474H1934M1216 1483H1934M1216 1491H1934M1216 1497H1934M1216 1505H1934M1216 1791H1934M1216 1798H1934M1216 1806H1934M1216 1813H1934M1216 1821H1934" stroke="#111" stroke-width="1"/>
<g fill="none" stroke="#111" stroke-width=".6">
<path d="M1386 1466A170 181.500 0 0 0 1386 1829M1750 1466A171 181.500 0 0 1 1750 1829"/>
<path d="M1386 1474A162 173.500 0 0 0 1386 1821M1750 1474A163 173.500 0 0 1 1750 1821"/>
<path d="M1386 1482A154 165.500 0 0 0 1386 1813M1750 1482A155 165.500 0 0 1 1750 1813"/>
<path d="M1386 1490A146 157.500 0 0 0 1386 1805M1750 1490A147 157.500 0 0 1 1750 1805"/>
<path d="M1386 1498A138 149.500 0 0 0 1386 1797M1750 1498A139 149.500 0 0 1 1750 1797"/>
<path d="M1386 1506A130 141.500 0 0 0 1386 1789M1750 1506A131 141.500 0 0 1 1750 1789"/>
</g>
<path d="M1386 1516H1750A124 131.500 0 0 1 1750 1779H1386A122 131.500 0 0 1 1386 1516Z" fill="#00a878" stroke="#e8eeee" stroke-width="2.500" stroke-dasharray="4 2"/>
<rect x="1203" y="1466" width="13" height="47" fill="#e8eeee" stroke="#111" stroke-width=".6"/><rect x="1203" y="1783" width="13" height="46" fill="#e8eeee" stroke="#111" stroke-width=".6"/>
<g font-size="7" fill="#222"><text x="1206" y="1473">1</text><text x="1206" y="1481">2</text><text x="1206" y="1489">3</text><text x="1206" y="1496">4</text><text x="1206" y="1504">5</text><text x="1206" y="1512">6</text><text x="1206" y="1790">1</text><text x="1206" y="1798">2</text><text x="1206" y="1805">3</text><text x="1206" y="1813">4</text><text x="1206" y="1820">5</text><text x="1206" y="1828">6</text></g>
<rect x="1374.500" y="1518" width="387.500" height="263" fill="#fff" stroke="#222" stroke-width=".6"/>
<rect x="1379" y="1523" width="378" height="250" fill="#00a878" stroke="#111"/>
<path d="M1454.600 1616Q1492 1648 1454.600 1681Z" fill="#bfd0ce" stroke="#111" stroke-width=".7"/>
<path d="M1681.500 1616Q1644 1648 1681.500 1681Z" fill="#bfd0ce" stroke="#111" stroke-width=".7"/>
<rect x="1379" y="1569" width="75.600" height="157" fill="#88bf9f" stroke="#111" stroke-width=".8"/><rect x="1681.500" y="1569" width="75.500" height="157" fill="#88bf9f" stroke="#111" stroke-width=".8"/>
<rect x="1379" y="1613" width="31" height="69" fill="#bfd0ce" stroke="#111" stroke-width=".8"/><rect x="1725.800" y="1613" width="31.200" height="69" fill="#bfd0ce" stroke="#111" stroke-width=".8"/>
<path d="M1568.500 1523V1773" stroke="#123" stroke-width=".8"/>
<ellipse cx="1568.500" cy="1648" rx="25" ry="25" fill="#bfd0ce" stroke="#111" stroke-width=".8"/><path d="M1568.500 1623V1673" stroke="#123" stroke-width=".6"/>
<g fill="none" stroke="#123" stroke-width=".8">
<circle cx="1348.700" cy="1599" r="6"/><path d="M1348.700 1599V1698L1347 1698Q1308 1692 1284 1674L1348.700 1599"/><path d="M1321 1632Q1332 1640 1348.700 1642"/><path d="M1373 1686L1324 1760"/>
<rect x="1772.500" y="1540" width="18.500" height="178"/><path d="M1785.500 1540V1718"/><rect x="1775.500" y="1718" width="35.500" height="39"/><rect x="1802" y="1631" width="17" height="35"/><path d="M1819 1631L1838 1594Q1884 1648 1838 1703L1819 1666"/>
</g>
<text class="m" x="1513" y="1854" textLength="105" lengthAdjust="spacingAndGlyphs" style="font-size:14px">塑 胶 跑 道</text>
<text class="m" x="1498" y="1887" textLength="127" lengthAdjust="spacingAndGlyphs" style="font-size:13px">小  足  球  场</text>

<!-- archery -->
<rect x="2268" y="1209" width="109.500" height="381.500" fill="#bf3a40" stroke="#111"/>
<rect x="2458" y="1101" width="109.500" height="489.500" fill="#bf3a40" stroke="#111"/>
<path d="M2295 1209V1590M2322.500 1209V1590M2349 1209V1590M2268 1318H2377.500M2268 1427H2377.500M2485 1101V1590M2513 1101V1590M2541 1101V1590M2458 1209H2567.500M2458 1318H2567.500M2458 1427H2567.500" class="s"/>
<g fill="#fff"><rect x="2272" y="1210.500" width="7" height="11.500"/><rect x="2285" y="1210.500" width="7" height="11.500"/><rect x="2300" y="1210.500" width="7" height="11.500"/><rect x="2313" y="1210.500" width="7" height="11.500"/><rect x="2327.500" y="1210.500" width="7" height="11.500"/><rect x="2339" y="1210.500" width="7" height="11.500"/><rect x="2354.500" y="1210.500" width="7" height="11.500"/><rect x="2365.700" y="1210.500" width="7" height="11.500"/>
<rect x="2462" y="1102" width="7" height="11.500"/><rect x="2473" y="1102" width="7" height="11.500"/><rect x="2491" y="1102" width="7" height="11.500"/><rect x="2501" y="1102" width="7" height="11.500"/><rect x="2519" y="1102" width="7" height="11.500"/><rect x="2530" y="1102" width="7" height="11.500"/><rect x="2546" y="1102" width="7" height="11.500"/><rect x="2557" y="1102" width="7" height="11.500"/></g>
<rect x="2213" y="1590.500" width="409" height="109" fill="#65a8c0" stroke="#111"/>
<path d="M2213 1617.500H2622M2213 1644H2622" class="s"/>
<rect x="2400" y="1590.500" width="41" height="16.500" fill="#fff" stroke="#111"/>
<text x="2406" y="1602" font-size="9" fill="#444" textLength="28" lengthAdjust="spacingAndGlyphs">指挥台</text>
<g font-size="8" fill="#555"><text x="2575" y="1106">90m</text><text x="2575" y="1215">70m</text><text x="2576" y="1324">50m</text><text x="2576" y="1430">30m</text>
<text x="2625" y="1593">起射线</text><text x="2625" y="1607">等待线</text><text x="2625" y="1620">等待线</text><text x="2625" y="1633">候射线</text><text x="2625" y="1647">候射线</text><text x="2625" y="1671">休息区</text><text x="2409" y="1716" textLength="23" lengthAdjust="spacingAndGlyphs">休息区</text></g>
<text class="m" x="2657" y="1722" textLength="30" lengthAdjust="spacingAndGlyphs" style="font-size:15px">射箭</text>

<!-- watermark -->
<g style="mix-blend-mode:multiply">
<polyline class="wm" points="1083,790 1210,727 1267,703 1283,740"/>
<polyline class="wm" points="1228,717 1268,728"/>
<polyline class="wm" points="1210,727 1163,917"/>
<polyline class="wm" points="1230,718 1178,917"/>
<polyline class="wm" points="1270,730 1223,917"/>
<polyline class="wm" points="1083,790 1078,803 1100,838"/>
<polyline class="wm" points="1128,815 1197,785"/>
<polyline class="wm" points="1128,832 1190,803"/>
<polyline class="wm" points="1270,758 1283,753"/>
<polyline class="wm" points="1267,770 1283,765"/>
<polygon class="wm" points="1070,918 1332,918 1332,963 1320,978 1058,978 1058,933"/>
<polyline class="wm" points="1073,920 1073,962 1332,962"/>
<polyline class="wm" points="1073,962 1058,978"/>
<polyline class="wm" points="1150,980 1188,990 1207,980"/>
<polygon fill="#b4b4b4" points="1330,751 1423,751 1423,765 1390,765 1390,857 1363,857 1363,765 1330,765"/>
<polygon fill="#b4b4b4" points="1433,751 1522,751 1462,840 1522,840 1522,859 1430,859 1430,843 1490,765 1433,765"/>
</g>
<text x="1538" y="854" font-size="135" font-weight="700" fill="#b4b4b4" textLength="405" lengthAdjust="spacingAndGlyphs" style="mix-blend-mode:multiply;font-family:'Noto Sans CJK SC',sans-serif">素材网</text>
<text x="1498" y="950" font-size="46" font-weight="700" fill="#b4b4b4" textLength="445" style="mix-blend-mode:multiply">TZSUCAI.COM</text>
<g fill="none" stroke="#fff" stroke-opacity=".28" stroke-width="8">
<polygon points="1062,1205 1331,1205 1331,1268 1200,1272 1062,1268"/>
<polyline points="1062,1237 1331,1237"/>
</g>
</svg>
</body></html>
